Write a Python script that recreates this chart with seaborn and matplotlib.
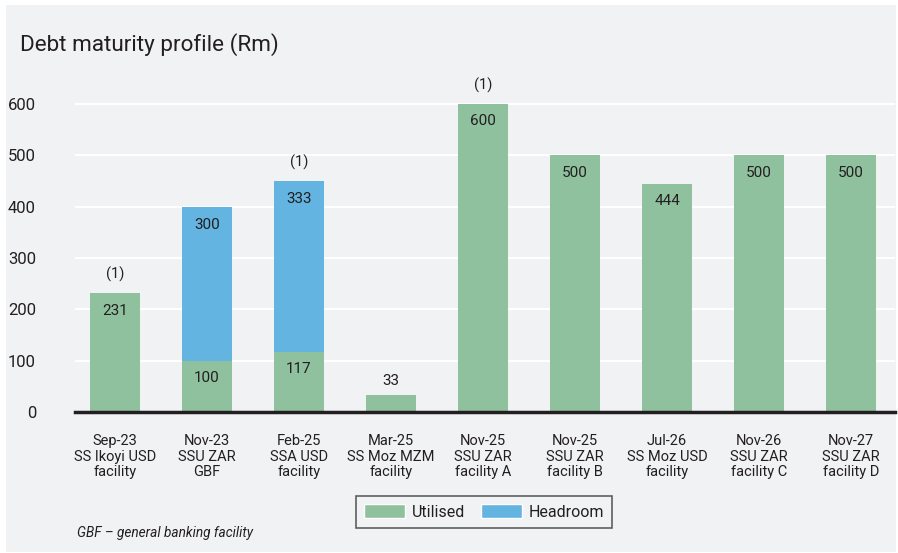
import matplotlib
matplotlib.use("Agg")
import matplotlib.pyplot as plt
import seaborn as sns
from matplotlib.patches import Rectangle, Patch

categories = ["Sep-23\nSS Ikoyi USD\nfacility", "Nov-23\nSSU ZAR\nGBF", "Feb-25\nSSA USD\nfacility",
              "Mar-25\nSS Moz MZM\nfacility", "Nov-25\nSSU ZAR\nfacility A", "Nov-25\nSSU ZAR\nfacility B",
              "Jul-26\nSS Moz USD\nfacility", "Nov-26\nSSU ZAR\nfacility C", "Nov-27\nSSU ZAR\nfacility D"]
utilised = [231, 100, 117, 33, 600, 500, 444, 500, 500]
headroom = [0, 300, 333, 0, 0, 0, 0, 0, 0]
notes = ["(1)", "", "(1)", "", "(1)", "", "", "", ""]
yticks = [0, 100, 200, 300, 400, 500, 600]

GREEN = "#8fc19f"
BLUE = "#63b4e1"
TXT = "#231f20"
BG = "#f1f2f4"

sns.set_theme(style="white")
FONT = ["Liberation Sans Narrow", "Roboto", "DejaVu Sans"]
plt.rcParams["font.family"] = FONT

fig = plt.figure(figsize=(8.98, 5.53), dpi=100, facecolor="white")
fig.patches.append(Rectangle((6/898, 1/553), 890/898, 547/553, transform=fig.transFigure,
                             facecolor=BG, edgecolor="none", zorder=-10))

ax = fig.add_axes([75/898, 141/553, 820/898, 328.5/553])
ax.set_facecolor(BG)

sns.barplot(x=categories, y=utilised, color=GREEN, width=0.55, ax=ax, saturation=1,
            zorder=3, linewidth=0, edgecolor="none")
sns.barplot(x=categories, y=headroom, bottom=utilised, color=BLUE, width=0.55, ax=ax,
            saturation=1, zorder=3, linewidth=0, edgecolor="none")

ax.set_xlim(-0.435, 8.478)
ax.set_ylim(0, 640)
ax.set_yticks(yticks)
ax.set_yticklabels([str(t) for t in yticks])
ax.grid(axis="y", color="white", lw=1.5, zorder=0)
ax.set_axisbelow(True)
for s in ["top", "right", "left"]:
    ax.spines[s].set_visible(False)
ax.spines["bottom"].set_color(TXT)
ax.spines["bottom"].set_linewidth(2.5)
ax.spines["bottom"].set_zorder(5)
ax.tick_params(axis="y", length=0, pad=28, labelsize=12, labelcolor=TXT)
ax.tick_params(axis="x", length=0, pad=16, labelsize=10.5, labelcolor=TXT)
for lab in ax.get_yticklabels():
    lab.set_horizontalalignment("right")
for lab in ax.get_xticklabels():
    lab.set_linespacing(1.12)

for i, (u, h) in enumerate(zip(utilised, headroom)):
    if u < 60:
        ax.text(i, u + 14, str(u), ha="center", va="bottom", fontsize=11, color=TXT)
    else:
        ax.text(i, u - 20, str(u), ha="center", va="top", fontsize=11, color=TXT)
    if h > 0:
        ax.text(i, u + h - 22, str(h), ha="center", va="top", fontsize=11, color=TXT)
    if notes[i]:
        ax.text(i, u + h + 22, notes[i], ha="center", va="bottom", fontsize=10.5, color=TXT)

fig.text(20/898, 1 - 45/553, "Debt maturity profile (Rm)", fontsize=16.2, color=TXT,
         ha="left", va="center")
fig.text(77/898, 1 - 533/553, "GBF \u2013 general banking facility", fontsize=9.8, color=TXT,
         style="italic", ha="left", va="center")

handles = [Patch(facecolor=GREEN, label="Utilised"), Patch(facecolor=BLUE, label="Headroom")]
leg = fig.legend(handles=handles, loc="center", bbox_to_anchor=(484/898, 1 - 512/553), ncol=2,
                 frameon=True, fancybox=False, edgecolor="#3a3a3a", facecolor=BG, fontsize=11.5,
                 handlelength=2.6, handleheight=1.0, columnspacing=1.0, handletextpad=0.4,
                 borderpad=0.5)
leg.get_frame().set_linewidth(1.2)
for t in leg.get_texts():
    t.set_color(TXT)

fig.savefig("out.png", dpi=100, facecolor="white")
